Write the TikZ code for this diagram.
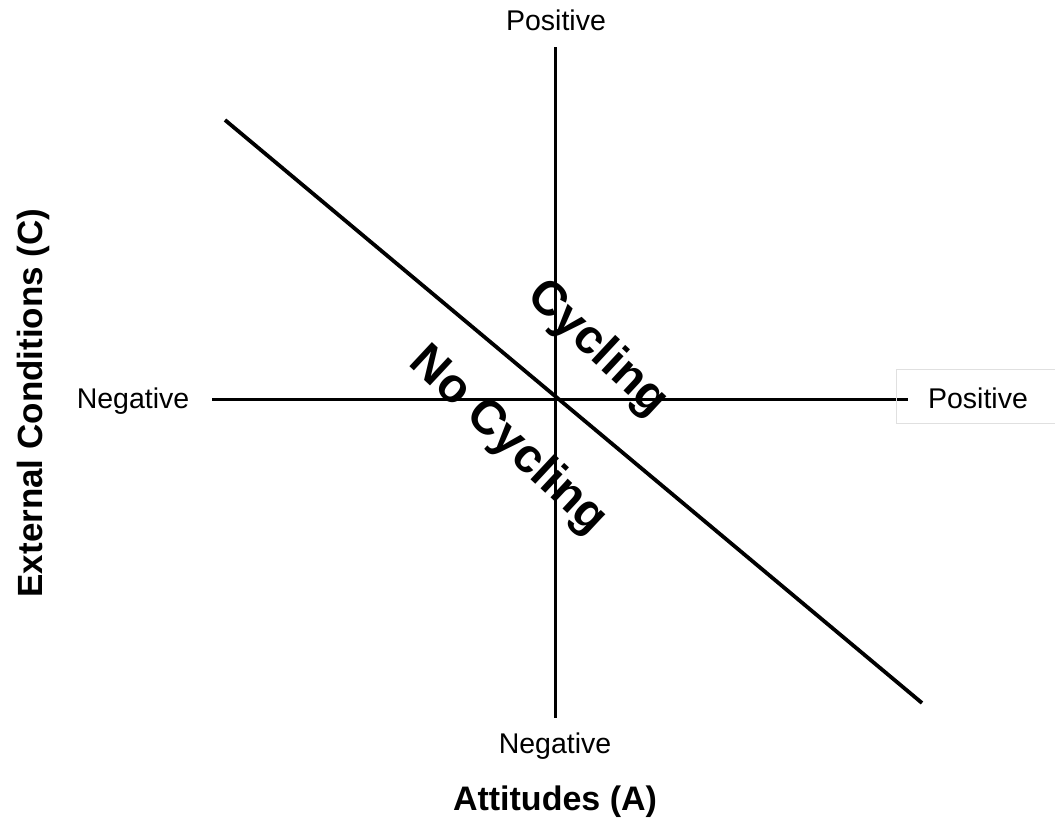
\documentclass[tikz,border=0pt]{standalone}
\usepackage{fontspec}
\setmainfont{Liberation Sans}
\begin{document}
\begin{tikzpicture}[x=1pt,y=-1pt,
  axis/.style={line width=3pt},
  divider/.style={line width=3.8pt},
  lbl/.style={font=\fontsize{28.5}{30}\selectfont, inner sep=0pt},
  title/.style={font=\fontsize{34}{36}\selectfont\bfseries, inner sep=0pt},
  region/.style={font=\fontsize{48}{50}\selectfont\bfseries, inner sep=0pt, rotate=-43}]
\useasboundingbox (0,0) rectangle (1055,838);
% axis end points
\coordinate (top) at (555,47);
\coordinate (bottom) at (555,718);
\coordinate (left) at (212,399);
\coordinate (right) at (908,399);
\coordinate (d1) at (225,120);
\coordinate (d2) at (922,703);
% axes and dividing line
\draw[axis] (top) -- (bottom);
\draw[axis] (left) -- (right);
\draw[divider] (d1) -- (d2);
% end labels
\node[lbl, anchor=base] (ptop) at (556,30) {Positive};
\node[lbl, anchor=base] (nbot) at (555,753) {Negative};
\node[lbl, anchor=base] (nleft) at (133,408) {Negative};
\node[draw=black!12, line width=0.8pt, minimum height=54pt, minimum width=162pt,
      anchor=west] (pbox) at (896,396) {};
\node[lbl, anchor=base] (pright) at (978,408) {Positive};
% axis titles
\node[title, anchor=base] (xt) at (555,810) {Attitudes (A)};
\node[title, font=\fontsize{35}{37}\selectfont\bfseries, rotate=90, anchor=base] (yt) at (42,403) {External Conditions (C)};
% region labels
\node[region] (cyc) at (597,349) {Cycling};
\node[region] (nocyc) at (508,441) {No Cycling};
\end{tikzpicture}
\end{document}
